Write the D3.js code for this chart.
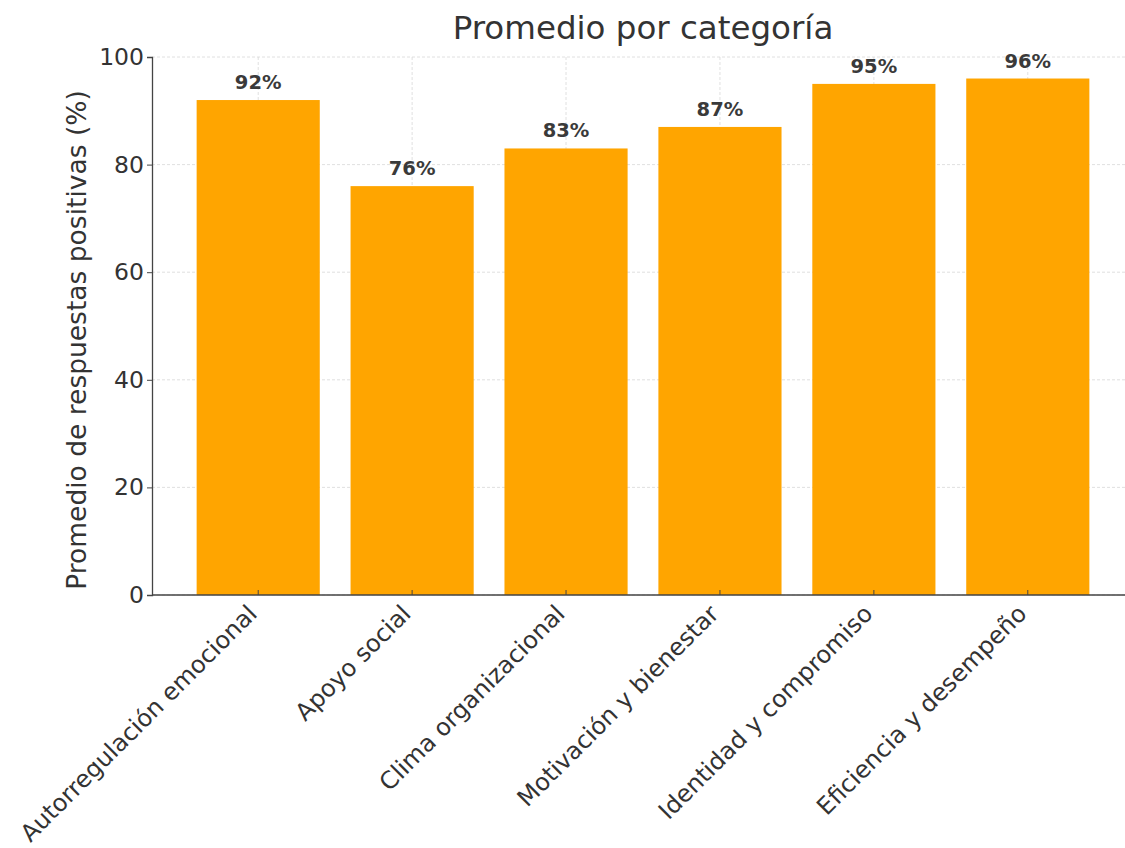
<!DOCTYPE html>
<html>
<head>
<meta charset="utf-8">
<script src="https://cdn.jsdelivr.net/npm/d3@7"></script>
<style>
  body { margin: 0; background: #fff; }
  svg { display: block; font-family: "DejaVu Sans", sans-serif; }
</style>
</head>
<body>
<div id="chart"></div>
<script>
// Data
const categories = [
  'Autorregulación emocional',
  'Apoyo social',
  'Clima organizacional',
  'Motivación y bienestar',
  'Identidad y compromiso',
  'Eficiencia y desempeño'
]
const values = [92, 76, 83, 87, 95, 96]
const yTicks = [0, 20, 40, 60, 80, 100]

const title = 'Promedio por categoría'
const yLabel = 'Promedio de respuestas positivas (%)'

// Dimensions
const dims = {
  width: 1125,
  height: 848,
  left: 152,
  right: 1134,
  top: 57,
  bottom: 595
}

const svg = d3.select('#chart')
  .append('svg')
    .attr('width', dims.width)
    .attr('height', dims.height)

// Scales
// bars sit at -0.4..5.4 with a 5% margin each side (cropped on the right)
const xIdx = d3.scaleLinear()
  .domain([-0.69, categories.length - 1 + 0.69])
  .range([dims.left, dims.right])

const y = d3.scaleLinear()
  .domain([0, 100])
  .range([dims.bottom, dims.top])

const barW = xIdx(0.4) - xIdx(-0.4)

// grid
const grid = svg.append('g')
grid.selectAll('.hgrid')
  .data(yTicks)
  .join('line')
  .attr('x1', dims.left)
  .attr('x2', dims.right)
  .attr('y1', d => y(d))
  .attr('y2', d => y(d))
  .attr('stroke', '#d8d8d8')
  .attr('stroke-width', 0.8)
  .attr('stroke-dasharray', '3,2')

grid.selectAll('.vgrid')
  .data(categories)
  .join('line')
  .attr('x1', (d, i) => xIdx(i))
  .attr('x2', (d, i) => xIdx(i))
  .attr('y1', dims.top)
  .attr('y2', dims.bottom)
  .attr('stroke', '#d8d8d8')
  .attr('stroke-width', 0.8)
  .attr('stroke-dasharray', '3,2')

// bars
svg.append('g')
  .selectAll('rect')
  .data(values)
  .join('rect')
  .attr('x', (d, i) => xIdx(i) - barW / 2)
  .attr('y', d => y(d))
  .attr('width', barW)
  .attr('height', d => y(0) - y(d))
  .attr('fill', '#FFA500')

// value labels
svg.append('g')
  .selectAll('text')
  .data(values)
  .join('text')
  .attr('x', (d, i) => xIdx(i))
  .attr('y', d => y(d) - 11)
  .attr('text-anchor', 'middle')
  .attr('font-size', 19.5)
  .attr('font-weight', 'bold')
  .attr('fill', '#3a3a3a')
  .text(d => d + '%')

// axes
const yAxis = svg.append('g')
  .attr('transform', `translate(${dims.left},0)`)
  .call(d3.axisLeft(y).tickValues(yTicks).tickSize(5).tickPadding(3))
yAxis.select('.domain').attr('stroke', '#444').attr('stroke-width', 1.3)
yAxis.selectAll('.tick line').attr('stroke', '#444')
yAxis.selectAll('.tick text')
  .attr('font-size', 23.5)
  .attr('fill', '#333')
  .attr('font-family', 'DejaVu Sans')

const xAxis = svg.append('g')
  .attr('transform', `translate(0,${dims.bottom})`)
xAxis.append('line')
  .attr('x1', dims.left)
  .attr('x2', dims.right)
  .attr('stroke', '#444')
  .attr('stroke-width', 1.3)
xAxis.selectAll('.tick')
  .data(categories)
  .join('line')
  .attr('x1', (d, i) => xIdx(i))
  .attr('x2', (d, i) => xIdx(i))
  .attr('y1', 0)
  .attr('y2', -5)
  .attr('stroke', '#444')

xAxis.selectAll('text')
  .data(categories)
  .join('text')
  .attr('transform', (d, i) => `translate(${xIdx(i) - 12},${8}) rotate(-45)`)
  .attr('text-anchor', 'end')
  .attr('dy', '0.72em')
  .attr('font-size', 24)
  .attr('fill', '#333')
  .text(d => d)

// y label
svg.append('text')
  .attr('transform', `translate(86,${340}) rotate(-90)`)
  .attr('text-anchor', 'middle')
  .attr('font-size', 26.5)
  .attr('fill', '#333')
  .text(yLabel)

// title
svg.append('text')
  .attr('x', (dims.left + dims.right) / 2)
  .attr('y', 39)
  .attr('text-anchor', 'middle')
  .attr('font-size', 32.5)
  .attr('fill', '#333')
  .text(title)
</script>
</body>
</html>
